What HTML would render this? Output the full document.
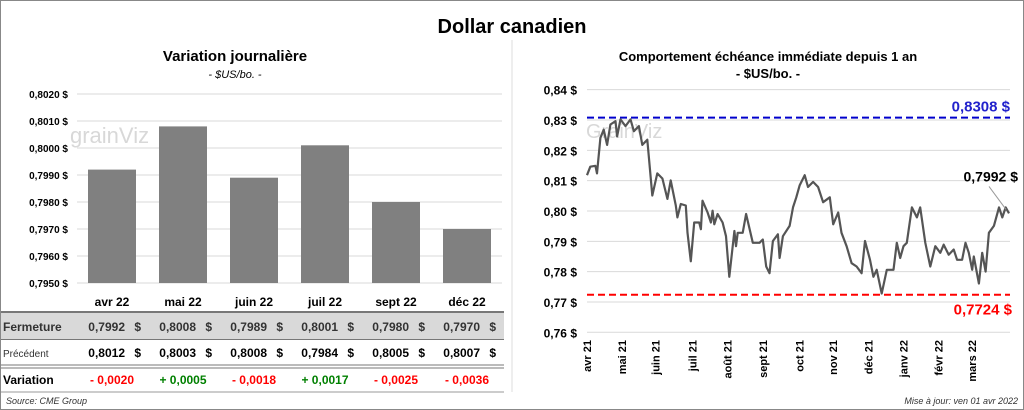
<!DOCTYPE html>
<html><head><meta charset="utf-8"><style>
body{margin:0;background:#fff;}
svg{display:block;font-family:"Liberation Sans",sans-serif;}
</style></head><body>
<svg id="s" width="1024" height="410" viewBox="0 0 1024 410" xmlns="http://www.w3.org/2000/svg">
<rect x="0.5" y="0.5" width="1023" height="409" fill="#fff" stroke="#888"/>
<text x="512" y="33" text-anchor="middle" font-size="20" font-weight="bold">Dollar canadien</text>
<text x="235" y="61" text-anchor="middle" font-size="15" font-weight="bold">Variation  journalière</text>
<text x="235" y="78" text-anchor="middle" font-size="11" font-style="italic">- $US/bo. -</text>
<text x="768" y="61" text-anchor="middle" font-size="13" font-weight="bold">Comportement échéance immédiate depuis 1 an</text>
<text x="768" y="78" text-anchor="middle" font-size="13" font-weight="bold">- $US/bo. -</text>
<g id="left"></g>
<g id="table"></g>
<g id="right"></g>
<text x="6" y="404" font-size="9" font-style="italic" fill="#333">Source: CME Group</text>
<text x="1018" y="404" text-anchor="end" font-size="9" font-style="italic" fill="#333">Mise à jour: ven 01 avr 2022</text>
</svg>
<script>
const barCats=["avr 22","mai 22","juin 22","juil 22","sept 22","déc 22"];
const closeVals=[0.7992,0.8008,0.7989,0.8001,0.7980,0.7970];
const prevVals=[0.8012,0.8003,0.8008,0.7984,0.8005,0.8007];
const changeVals=[-0.0020,0.0005,-0.0018,0.0017,-0.0025,-0.0036];
const barTicks=[0.7950,0.7960,0.7970,0.7980,0.7990,0.8000,0.8010,0.8020];

const lineTicks=[0.76,0.77,0.78,0.79,0.80,0.81,0.82,0.83,0.84];
const monthLabels=["avr 21","mai 21","juin 21","juil 21","août 21","sept 21","oct 21","nov 21","déc 21","janv 22","févr 22","mars 22"];
const monthDays=[0,21,41,63,84,105,127,147,168,189,210,230];
const seriesDays=[0,2,5,6,8,10,12,14,17,18,20,23,26,28,31,33,36,39,42,45,48,50,53,54,56,59,60,62,64,67,68,69,72,74,75,76,78,81,83,85,88,89,90,93,95,99,103,105,107,109,111,114,115,117,121,123,125,127,130,132,135,138,141,145,147,150,152,155,158,161,164,166,169,171,173,176,179,183,185,187,189,191,194,197,199,202,205,208,211,213,216,219,221,224,226,228,230,231,234,236,238,240,243,246,248,250,252];
const seriesVals=[0.8118,0.8146,0.8149,0.8124,0.8241,0.8268,0.8218,0.8285,0.8296,0.8246,0.8302,0.8280,0.8302,0.8263,0.8280,0.8218,0.8235,0.8051,0.8124,0.8107,0.8040,0.8101,0.8018,0.7979,0.8023,0.8018,0.7928,0.7834,0.7962,0.7962,0.7940,0.8034,0.7995,0.7962,0.8001,0.7956,0.7990,0.7962,0.7917,0.7783,0.7934,0.7884,0.7928,0.7928,0.7990,0.7895,0.7895,0.7906,0.7817,0.7795,0.7901,0.7923,0.7845,0.7917,0.7951,0.8012,0.8045,0.8085,0.8118,0.8079,0.8096,0.8079,0.8029,0.8045,0.7956,0.7995,0.7928,0.7884,0.7828,0.7817,0.7795,0.7901,0.7839,0.7783,0.7806,0.7728,0.7806,0.7806,0.7895,0.7845,0.7884,0.7895,0.8012,0.7979,0.8012,0.7895,0.7817,0.7884,0.7862,0.7889,0.7856,0.7873,0.7839,0.7839,0.7895,0.7862,0.7806,0.7850,0.7761,0.7862,0.7800,0.7928,0.7951,0.8012,0.7979,0.8012,0.7992];
const highVal=0.8308, lowVal=0.7724, lastVal=0.7992;

const NS="http://www.w3.org/2000/svg";
function mk(tag,attrs,parent,txt){const e=document.createElementNS(NS,tag);for(const k in attrs)e.setAttribute(k,attrs[k]);if(txt!==undefined)e.textContent=txt;parent.appendChild(e);return e;}
const fmt4=v=>v.toFixed(4).replace('.',',');

// bar chart
const L=document.getElementById('left');
const by=v=>94+(0.8020-v)/0.0010*27;
const bx=i=>112+i*71;
barTicks.forEach(t=>{
  const g=mk('line',{x1:77,x2:502,y1:by(t),y2:by(t),stroke:'#d9d9d9'},L);
  
  
  const tx=mk('text',{x:68,y:by(t)+4,'text-anchor':'end','font-size':10,'font-weight':'bold'},L,fmt4(t)+' $');
  
  
});
const wm=mk('text',{x:70,y:143,'font-size':22,fill:'#d8d8d8'},L,'grainViz');


closeVals.forEach((v,i)=>{
  const r=mk('rect',{x:bx(i)-24,y:by(v),width:48,height:by(0.7950)-by(v),fill:'#808080'},L);
  
  
  const t=mk('text',{x:bx(i),y:306,'text-anchor':'middle','font-size':12,'font-weight':'bold'},L,barCats[i]);
  
  
});

// table
const T=document.getElementById('table');
mk('rect',{x:1,y:313,width:503,height:26,fill:'#d9d9d9'},T);
mk('line',{x1:1,x2:504,y1:312,y2:312,stroke:'#777','stroke-width':2},T);
mk('line',{x1:1,x2:504,y1:339.5,y2:339.5,stroke:'#777'},T);
mk('line',{x1:1,x2:504,y1:365,y2:365,stroke:'#777'},T);
mk('line',{x1:1,x2:504,y1:368,y2:368,stroke:'#777'},T);
mk('line',{x1:1,x2:504,y1:392,y2:392,stroke:'#999'},T);
const h1=mk('text',{x:3,y:331,'font-size':12,'font-weight':'bold',fill:'#333'},T,'Fermeture');


const h2=mk('text',{x:3,y:357,'font-size':10,fill:'#333'},T,'Précédent');


const h3=mk('text',{x:3,y:384,'font-size':12,'font-weight':'bold'},T,'Variation');


closeVals.forEach((v,i)=>{
  const x=bx(i)+21;
  const c=mk('text',{x:x-8,y:331,'text-anchor':'end','font-size':12,'font-weight':'bold',fill:'#333'},T,fmt4(v));
  
  
  mk('text',{x:x+8,y:331,'text-anchor':'end','font-size':12,'font-weight':'bold',fill:'#333'},T,'$');
  const p=mk('text',{x:x-8,y:357,'text-anchor':'end','font-size':12,'font-weight':'bold'},T,fmt4(prevVals[i]));
  
  
  mk('text',{x:x+8,y:357,'text-anchor':'end','font-size':12,'font-weight':'bold'},T,'$');
  const d=changeVals[i];
  const dv=mk('text',{x:bx(i),y:384,'text-anchor':'middle','font-size':12,'font-weight':'bold',fill:d<0?'#ff0000':'#008000'},T,(d<0?'- ':'+ ')+fmt4(Math.abs(d)));
  
  
});

// line chart
const R=document.getElementById('right');
mk('line',{x1:512,x2:512,y1:40,y2:392,stroke:'#ddd'},R);
const ly=v=>120+(0.83-v)/0.01*30.33;
const lx=d=>587+d/252*422;
lineTicks.forEach(t=>{
  const g=mk('line',{x1:587,x2:1010,y1:ly(t),y2:ly(t),stroke:'#d9d9d9'},R);
  
  
  const tx=mk('text',{x:577,y:ly(t)+5,'text-anchor':'end','font-size':12,'font-weight':'bold'},R,t.toFixed(2).replace('.',',')+' $');
  
  
});
const wm2=mk('text',{x:586,y:138,'font-size':20,fill:'#d8d8d8'},R,'GrainViz');


monthLabels.forEach((m,i)=>{
  const x=lx(monthDays[i])+4;
  const t=mk('text',{x:0,y:0,transform:`translate(${x},340) rotate(-90)`,'text-anchor':'end','font-size':11,'font-weight':'bold'},R,m);
  
  
});
const hl=mk('line',{x1:587,x2:1010,y1:ly(highVal),y2:ly(highVal),stroke:'#0000cc','stroke-width':2,'stroke-dasharray':'7,4'},R);


const ll=mk('line',{x1:587,x2:1010,y1:ly(lowVal),y2:ly(lowVal),stroke:'#ff0000','stroke-width':2,'stroke-dasharray':'7,4'},R);


const n=Math.min(seriesDays.length,seriesVals.length);
let dstr='';
for(let i=0;i<n;i++)dstr+=(i?'L':'M')+lx(seriesDays[i]).toFixed(1)+','+ly(seriesVals[i]).toFixed(1);
const pl=mk('path',{d:dstr,fill:'none',stroke:'#555','stroke-width':2.2,'stroke-linejoin':'round'},R);


const hlab=mk('text',{x:1010,y:ly(highVal)-6,'text-anchor':'end','font-size':15,'font-weight':'bold',fill:'#2222cc'},R,fmt4(highVal)+' $');


const llab=mk('text',{x:1012,y:ly(lowVal)+20,'text-anchor':'end','font-size':15,'font-weight':'bold',fill:'#ff0000'},R,fmt4(lowVal)+' $');


const lastx=lx(seriesDays[n-1]);
mk('line',{x1:lastx-3,x2:lastx-20,y1:ly(lastVal)-4,y2:ly(lastVal)-27,stroke:'#999'},R);
const lastlab=mk('text',{x:1018,y:ly(lastVal)-32,'text-anchor':'end','font-size':14,'font-weight':'bold'},R,fmt4(lastVal)+' $');


</script>
</body></html>
